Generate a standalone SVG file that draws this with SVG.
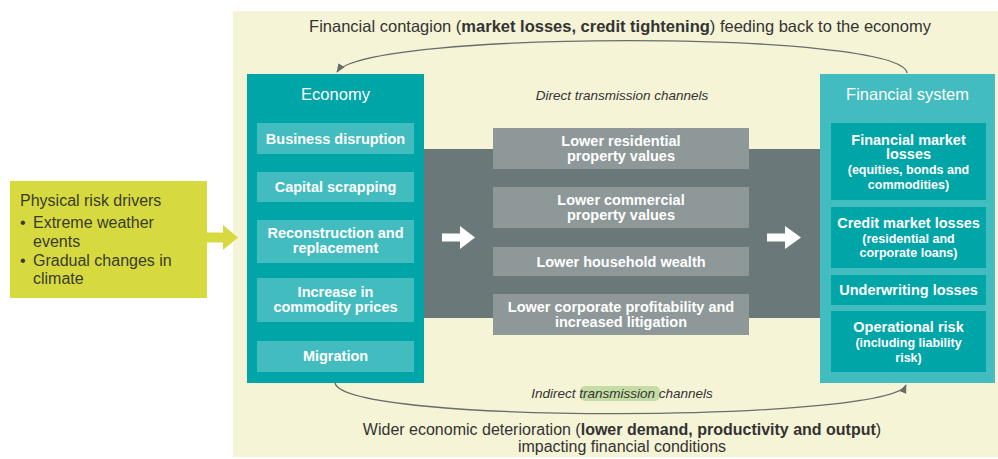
<svg xmlns="http://www.w3.org/2000/svg" width="998" height="459" viewBox="0 0 998 459">
  <defs>
    <style>
      text { font-family: "Liberation Sans", Arial, sans-serif; }
      .cream { fill: #F6F4D6; }
      .teal { fill: #00A5A8; }
      .tealL { fill: #42BCBF; }
      .band { fill: #6A7879; }
      .gbox { fill: #8E9898; }
      .wt { fill: #FFFFFF; font-size: 14.5px; font-weight: bold; text-anchor: middle; }
      .wt-s { fill: #FFFFFF; font-size: 12.5px; font-weight: bold; text-anchor: middle; }
      .title { fill: #FFFFFF; font-size: 16.5px; text-anchor: middle; }
      .dark { fill: #333333; font-size: 16.5px; text-anchor: middle; }
      .dark-b { fill: #333333; font-size: 16px; text-anchor: middle; }
      .ital { fill: #333333; font-size: 13.5px; font-style: italic; text-anchor: middle; }
      .drv { fill: #3A3A2A; font-size: 16px; }
      .conn { fill: none; stroke: #6B6B6B; stroke-width: 1.3; }
    </style>
    <marker id="head" viewBox="0 0 10 10" refX="9" refY="5" markerWidth="7" markerHeight="7" orient="auto">
      <path d="M0,1 L10,5 L0,9 Z" fill="#6B6B6B"/>
    </marker>
  </defs>

  <!-- page background -->
  <rect width="998" height="459" fill="#FFFFFF"/>
  <rect class="cream" x="233" y="11" width="765" height="446"/>

  <!-- drivers -->
  <g id="drivers">
    <rect x="10" y="181" width="197" height="117" fill="#D6DA3F"/>
    <path d="M205,232.5 H223 V225 L238,237.5 L223,250 V242.5 H205 Z" fill="#D6DA3F"/>
    <text class="drv" x="20" y="206">Physical risk drivers</text>
    <text class="drv" x="20" y="228">•</text>
    <text class="drv" x="33" y="228">Extreme weather</text>
    <text class="drv" x="33" y="247">events</text>
    <text class="drv" x="20" y="266">•</text>
    <text class="drv" x="33" y="266">Gradual changes in</text>
    <text class="drv" x="33" y="284">climate</text>
  </g>

  <!-- direct channels band -->
  <g id="direct">
    <rect class="band" x="424" y="149" width="397" height="169"/>
    <text class="ital" x="622" y="100">Direct transmission channels</text>
    <path d="M442,233.5 H460 V226 L475,237.5 L460,249 V241.5 H442 Z" fill="#FFFFFF"/>
    <path d="M767,233.5 H785 V226 L801,237.5 L785,249 V241.5 H767 Z" fill="#FFFFFF"/>
  </g>
  <g id="residential">
    <rect class="gbox" x="493" y="128" width="256" height="41"/>
    <text class="wt" x="621" y="146">Lower residential</text>
    <text class="wt" x="621" y="161">property values</text>
  </g>
  <g id="commercial">
    <rect class="gbox" x="493" y="187" width="256" height="41"/>
    <text class="wt" x="621" y="205">Lower commercial</text>
    <text class="wt" x="621" y="220">property values</text>
  </g>
  <g id="household">
    <rect class="gbox" x="493" y="247" width="256" height="29"/>
    <text class="wt" x="621" y="266.5">Lower household wealth</text>
  </g>
  <g id="corporate">
    <rect class="gbox" x="493" y="294" width="256" height="41"/>
    <text class="wt" x="621" y="312">Lower corporate profitability and</text>
    <text class="wt" x="621" y="327">increased litigation</text>
  </g>

  <!-- economy -->
  <g id="economy">
    <rect class="teal" x="247" y="74" width="177" height="309"/>
    <text class="title" x="335.5" y="100">Economy</text>
    <rect class="tealL" x="257" y="123" width="157" height="31"/>
    <text class="wt" x="335.5" y="143.5">Business disruption</text>
    <rect class="tealL" x="257" y="172" width="157" height="30"/>
    <text class="wt" x="335.5" y="192">Capital scrapping</text>
    <rect class="tealL" x="257" y="220" width="157" height="43"/>
    <text class="wt" x="335.5" y="238">Reconstruction and</text>
    <text class="wt" x="335.5" y="253">replacement</text>
    <rect class="tealL" x="257" y="278" width="157" height="44"/>
    <text class="wt" x="335.5" y="296.5">Increase in</text>
    <text class="wt" x="335.5" y="311.5">commodity prices</text>
    <rect class="tealL" x="257" y="341" width="157" height="31"/>
    <text class="wt" x="335.5" y="361">Migration</text>
  </g>

  <!-- financial system -->
  <g id="financial">
    <rect class="tealL" x="820" y="74" width="175" height="309"/>
    <text class="title" x="907.5" y="100">Financial system</text>
    <rect class="teal" x="831" y="123" width="155" height="77"/>
    <text class="wt" x="908.5" y="144.5">Financial market</text>
    <text class="wt" x="908.5" y="159">losses</text>
    <text class="wt-s" x="908.5" y="174">(equities, bonds and</text>
    <text class="wt-s" x="908.5" y="188.5">commodities)</text>
    <rect class="teal" x="831" y="207" width="155" height="61"/>
    <text class="wt" x="908.5" y="228">Credit market losses</text>
    <text class="wt-s" x="908.5" y="242.5">(residential and</text>
    <text class="wt-s" x="908.5" y="257">corporate loans)</text>
    <rect class="teal" x="831" y="275" width="155" height="30"/>
    <text class="wt" x="908.5" y="294.5">Underwriting losses</text>
    <rect class="teal" x="831" y="311" width="155" height="61"/>
    <text class="wt" x="908.5" y="332">Operational risk</text>
    <text class="wt-s" x="908.5" y="347">(including liability</text>
    <text class="wt-s" x="908.5" y="361.5">risk)</text>
  </g>

  <!-- feedback loops -->
  <g id="connectors">
    <path class="conn" d="M907,73 C902,30 365,30 337,72" marker-end="url(#head)"/>
    <path class="conn" d="M335,383 C345,425 890,422 906,385" marker-end="url(#head)"/>
  </g>

  <!-- loop labels -->
  <g id="labels">
    <text class="dark" x="620" y="32">Financial contagion (<tspan font-weight="bold">market losses, credit tightening</tspan>) feeding back to the economy</text>
    <rect x="580" y="386" width="80" height="15" rx="5" fill="#C5DDA5"/>
    <text class="ital" x="622" y="398">Indirect transmission channels</text>
    <text class="dark-b" x="622" y="435">Wider economic deterioration (<tspan font-weight="bold">lower demand, productivity and output</tspan>)</text>
    <text class="dark-b" x="622" y="452">impacting financial conditions</text>
  </g>
</svg>
